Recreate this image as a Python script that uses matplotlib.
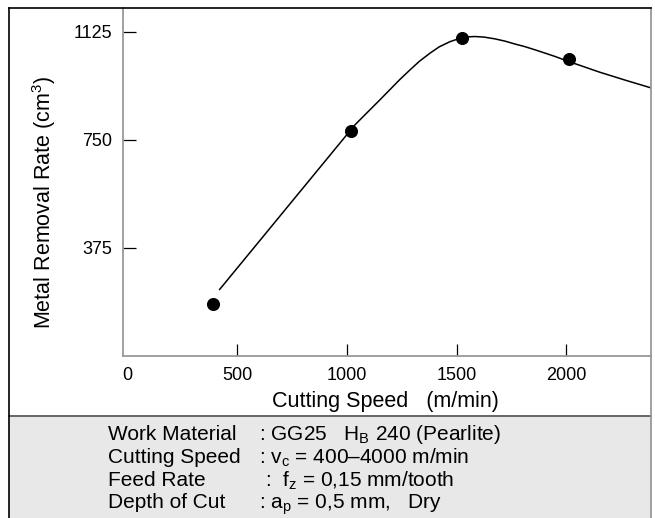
import matplotlib
matplotlib.use("Agg")
import matplotlib.pyplot as plt
from matplotlib.patches import Rectangle
from matplotlib.lines import Line2D

plt.rcParams['font.family'] = ['Liberation Sans', 'DejaVu Sans']
plt.rcParams['mathtext.fontset'] = 'custom'
plt.rcParams['mathtext.rm'] = 'Liberation Sans'

# measured points (cutting speed m/min, removal rate cm3)
speed_pts = [390, 1020, 1525, 2010]
rate_pts = [180, 782, 1103, 1030]

# trend curve
curve_speed = [418, 1036, 1104, 1150, 1195, 1240, 1287, 1330, 1378, 1420,
               1469, 1500, 1525, 1555, 1582, 1625, 1673, 1720, 1765, 1810,
               1856, 1900, 1947, 2011, 2080, 2152, 2270, 2388]
curve_rate = [229, 802, 854, 889, 924, 959, 993, 1023, 1051, 1073,
              1091, 1099, 1104, 1108, 1109, 1107, 1101, 1093, 1083, 1074,
              1063, 1052, 1040, 1022, 1004, 985, 957, 930]

x_ticks = [0, 500, 1000, 1500, 2000]
y_ticks = [375, 750, 1125]

cond_labels = ["Work Material", "Cutting Speed", "Feed Rate", "Depth of Cut"]
cond_values = [": GG25   H$_\\mathregular{B}$ 240 (Pearlite)",
               ": v$_\\mathregular{c}$ = 400\u20134000 m/min",
               ":  f$_\\mathregular{z}$ = 0,15 mm/tooth",
               ": a$_\\mathregular{p}$ = 0,5 mm,   Dry"]

W, H = 655, 518


def fx(px):
    return px / W


def fy(py):
    return 1 - py / H


fig = plt.figure(figsize=(W / 100, H / 100), dpi=100)
ax = fig.add_axes([fx(123), fy(356), fx(651) - fx(123), fy(8) - fy(356)])

ax.plot(curve_speed, curve_rate, color='black', lw=1.1, solid_capstyle='butt',
        solid_joinstyle='round')
ax.plot(speed_pts, rate_pts, 'o', color='black', ms=8.4)

ax.set_xlim(-20, 2385)
ax.set_ylim(0, 1208)
ax.set_xticks(x_ticks)
ax.set_yticks(y_ticks)
ax.tick_params(direction='in', length=9, width=0.9, color='black',
               labelsize=13, pad=8)
ax.xaxis.get_major_ticks()[0].tick1line.set_visible(False)

for side in ['left', 'bottom', 'right']:
    ax.spines[side].set_color('#999999')
    ax.spines[side].set_linewidth(1.3)
ax.spines['top'].set_visible(False)

# conditions panel
fig.patches.append(Rectangle((fx(9), fy(530)), fx(651) - fx(9), fy(416) - fy(530),
                             transform=fig.transFigure, facecolor='#e8e8e8',
                             edgecolor='none', zorder=0))
fig.lines.append(Line2D([fx(9), fx(651)], [fy(416), fy(416)],
                        transform=fig.transFigure, color='#666666', lw=1.4))

# outer frame
fig.lines.append(Line2D([fx(9), fx(9)], [fy(530), fy(8)],
                        transform=fig.transFigure, color='black', lw=1.2))
fig.lines.append(Line2D([fx(9), fx(651)], [fy(8), fy(8)],
                        transform=fig.transFigure, color='black', lw=1.2))
fig.lines.append(Line2D([fx(651), fx(651)], [fy(356), fy(530)],
                        transform=fig.transFigure, color='#999999', lw=1.3))

fig.text(fx(44), fy(202), "Metal Removal Rate (cm$^\\mathregular{3}$)", rotation=90,
         ha='center', va='center', fontsize=15.5)
fig.text(fx(385), fy(401), "Cutting Speed   (m/min)", ha='center', va='center',
         fontsize=15.5)

baselines = [440, 463, 486, 508]
value_x = [259, 259, 265, 259]
for lab, val, b, vx in zip(cond_labels, cond_values, baselines, value_x):
    fig.text(fx(108), fy(b), lab, ha='left', va='baseline', fontsize=15)
    fig.text(fx(vx), fy(b), val, ha='left', va='baseline', fontsize=15)

fig.savefig("out.png", dpi=100)
